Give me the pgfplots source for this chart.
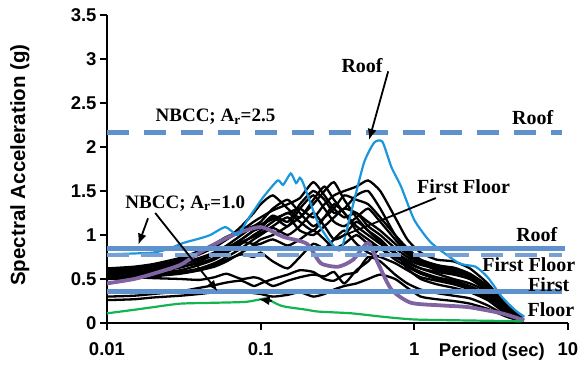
\documentclass[border=0pt]{standalone}
\usepackage{fontspec}
\setmainfont{Liberation Serif}
\newfontfamily\arial{Liberation Sans}
\usepackage{pgfplots}
\usepackage{pgfplotstable}
\pgfplotsset{compat=1.18}
\usetikzlibrary{arrows.meta}
\definecolor{nbcc}{RGB}{95,145,205}
\definecolor{roofblue}{RGB}{25,150,220}
\definecolor{purp}{RGB}{128,100,162}
\definecolor{grn}{RGB}{20,180,80}

\pgfplotstableread{
T b1 b2 b3 b4 b5 b6 b7 b8 b9 b10 b11 b12 b13 b14 b15
0.01 0.62 0.6 0.58 0.56 0.55 0.54 0.52 0.5 0.52 0.3 0.26 0.6 0.59 0.57 0.53
0.015 0.64 0.62 0.6 0.58 0.56 0.55 0.53 0.51 0.52 0.31 0.27 0.61 0.6 0.58 0.54
0.02 0.67 0.65 0.63 0.6 0.58 0.56 0.55 0.53 0.51 0.33 0.29 0.63 0.62 0.6 0.55
0.03 0.74 0.72 0.7 0.66 0.63 0.6 0.58 0.56 0.5 0.36 0.31 0.68 0.67 0.64 0.57
0.04 0.82 0.8 0.78 0.73 0.7 0.66 0.62 0.6 0.49 0.4 0.33 0.74 0.72 0.68 0.6
0.05 0.9 0.88 0.86 0.8 0.78 0.72 0.68 0.66 0.52 0.43 0.35 0.8 0.78 0.74 0.64
0.06 0.98 0.95 0.95 0.88 0.85 0.8 0.75 0.72 0.56 0.46 0.36 0.86 0.84 0.82 0.7
0.075 1.05 1.05 1.1 1.0 0.95 0.9 0.85 0.78 0.5 0.48 0.36 0.92 0.95 0.92 0.8
0.09 1.1 1.15 1.25 1.1 1.05 1.0 0.95 0.75 0.52 0.42 0.34 0.9 1.05 0.98 0.88
0.1 1.12 1.2 1.35 1.15 1.08 1.05 1.0 0.8 0.5 0.45 0.33 0.95 1.1 1.02 0.9
0.12 1.18 1.28 1.45 1.3 1.2 1.15 1.08 0.7 0.42 0.5 0.3 1.0 1.22 1.1 0.95
0.15 1.25 1.35 1.3 1.4 1.1 1.25 1.0 0.62 0.48 0.55 0.32 1.1 1.15 1.2 0.88
0.18 1.3 1.42 1.2 1.25 1.3 1.15 1.1 0.75 0.52 0.6 0.35 1.2 1.35 1.05 0.95
0.22 1.2 1.6 1.4 1.1 1.45 1.05 1.25 0.9 0.55 0.58 0.3 1.35 1.5 1.0 1.05
0.26 1.35 1.45 1.55 1.2 1.3 1.2 1.1 0.85 0.53 0.5 0.33 1.5 1.4 1.1 0.95
0.3 1.45 1.3 1.4 1.3 1.15 1.35 0.95 0.95 0.58 0.48 0.38 1.6 1.25 1.2 0.85
0.35 1.5 1.2 1.25 1.45 1.1 1.25 1.0 1.05 0.45 0.55 0.42 1.4 1.3 1.3 0.9
0.42 1.55 1.25 1.05 1.4 1.2 1.1 1.15 0.9 0.6 0.58 0.45 1.2 1.45 1.25 1.0
0.5 1.62 1.1 0.95 1.35 1.3 1.0 1.05 0.8 0.7 0.75 0.5 1.05 1.5 1.15 0.9
0.6 1.5 1.0 0.85 1.2 1.15 0.9 0.95 0.75 0.85 0.7 0.55 0.92 1.3 1.05 0.85
0.75 1.2 0.85 0.75 1.0 0.95 0.8 0.78 0.68 0.8 0.55 0.5 0.8 1.0 0.9 0.72
0.9 0.95 0.75 0.68 0.85 0.8 0.7 0.66 0.6 0.62 0.45 0.4 0.72 0.82 0.78 0.64
1.1 0.8 0.68 0.62 0.72 0.7 0.62 0.58 0.52 0.5 0.38 0.3 0.66 0.7 0.68 0.56
1.4 0.72 0.62 0.58 0.66 0.64 0.56 0.52 0.48 0.44 0.34 0.27 0.62 0.65 0.6 0.5
1.8 0.7 0.6 0.55 0.62 0.6 0.5 0.48 0.44 0.4 0.31 0.25 0.58 0.63 0.56 0.46
2.3 0.62 0.55 0.5 0.55 0.52 0.45 0.42 0.38 0.35 0.28 0.22 0.53 0.56 0.5 0.4
3 0.45 0.42 0.38 0.4 0.38 0.35 0.32 0.28 0.26 0.2 0.16 0.4 0.42 0.36 0.3
4 0.2 0.18 0.16 0.17 0.15 0.14 0.12 0.11 0.1 0.08 0.07 0.17 0.18 0.15 0.12
5 0.06 0.05 0.05 0.05 0.05 0.04 0.04 0.04 0.03 0.03 0.02 0.05 0.05 0.04 0.04
}\blk

\begin{document}
\begin{tikzpicture}
\begin{axis}[
  width=461pt, height=308pt, scale only axis,
  xmode=log, xmin=0.01, xmax=10, ymin=0, ymax=3.5,
  axis x line=bottom, axis y line=left,
  axis line style={-, line width=2.4pt, black},
  xtick={0.01,0.1,1,10}, xticklabels={0.01,0.1,1,10},
  ytick={0,0.5,1,1.5,2,2.5,3,3.5}, yticklabels={0,0.5,1,1.5,2,2.5,3,3.5},
  xminorticks=false, yminorticks=false,
  tick align=outside, major tick length=7pt,
  tick style={line width=2pt, black},
  ticklabel style={font=\arial\bfseries\fontsize{18.5}{20}\selectfont},
  xticklabel style={yshift=-9pt},
  xlabel={Period (sec)}, ylabel={Spectral Acceleration (g)},
  xlabel style={font=\arial\bfseries\fontsize{18.5}{20}\selectfont, at={(axis description cs:0.835,-0.094)}, anchor=center},
  ylabel style={font=\arial\bfseries\fontsize{20.5}{22}\selectfont, at={(axis description cs:-0.189,0.513)}, anchor=center},
  clip=false,
]
\coordinate (ll) at (rel axis cs:0,0);
\coordinate (ur) at (rel axis cs:1,1);

\pgfplotsinvokeforeach{b1,b2,b3,b4,b5,b6,b7,b8,b9,b10,b11,b12,b13,b14,b15}{
  \addplot[black, line width=2.3pt, smooth, tension=0.35] table[x=T, y=#1]{\blk};
}

% purple
\addplot[purp, line width=3.8pt, smooth, tension=0.4] coordinates {
(0.01,0.45) (0.015,0.5) (0.02,0.56) (0.03,0.66) (0.04,0.8) (0.066,1.0) (0.1,1.09)
(0.14,0.98) (0.2,0.9) (0.246,0.68) (0.32,0.64) (0.4,0.72) (0.5,0.91) (0.58,0.68)
(0.71,0.38) (0.95,0.23) (1.5,0.2) (2.25,0.18) (3.7,0.11) (5.2,0.03)};

% green
\addplot[grn, line width=2.2pt, smooth, tension=0.4] coordinates {
(0.01,0.11) (0.015,0.15) (0.02,0.18) (0.03,0.22) (0.05,0.23) (0.08,0.24) (0.1,0.27)
(0.11,0.28) (0.12,0.24) (0.14,0.19) (0.2,0.15) (0.236,0.13) (0.39,0.11) (0.63,0.07)
(1.0,0.04) (2,0.03) (5,0.02)};

% blue (roof)
\addplot[roofblue, line width=2.2pt, smooth, tension=0.35] coordinates {
(0.01,0.78) (0.015,0.79) (0.02,0.8) (0.025,0.84) (0.0314,0.91) (0.04,0.96) (0.047,1.0)
(0.059,1.09) (0.071,1.0) (0.082,1.17) (0.104,1.43) (0.129,1.62) (0.14,1.57)
(0.157,1.70) (0.17,1.59) (0.18,1.65) (0.19,1.58) (0.236,1.14) (0.287,0.91)
(0.333,0.83) (0.387,1.25) (0.47,1.82) (0.548,2.05) (0.62,2.06) (0.71,1.77)
(0.82,1.55) (1.0,1.17) (1.29,0.91) (1.95,0.68) (2.5,0.64) (3.0,0.52) (3.7,0.3)
(4.5,0.15) (5.2,0.07)};

% NBCC lines
\addplot[nbcc, line width=5pt, dash pattern=on 22pt off 15pt] coordinates {(0.01,2.16) (9.1,2.16)};
\addplot[nbcc, line width=5pt] coordinates {(0.01,0.85) (9.6,0.85)};
\addplot[nbcc!85, line width=4.5pt, dash pattern=on 22pt off 12pt] coordinates {(0.01,0.77) (9.1,0.77)};
\addplot[nbcc, line width=5pt] coordinates {(0.01,0.355) (9.1,0.355)};

% annotations
\tikzset{ann/.style={font=\bfseries\fontsize{20}{22}\selectfont, inner sep=0pt},
         arr/.style={-{Latex[length=11pt,width=9pt]}, line width=1.8pt, black}}
\node[ann, font=\bfseries\fontsize{19}{21}\selectfont] at (axis cs:0.0508,2.34) {NBCC; A\textsubscript{r}=2.5};
\node[ann] at (axis cs:5.9,2.33) {Roof};
\node[ann] at (axis cs:0.457,2.93) {Roof};
\draw[arr] (axis cs:0.676,2.86) -- (axis cs:0.508,2.08);
\node[ann] at (axis cs:2.09,1.55) {First Floor};
\draw[line width=1.8pt, black] (axis cs:1.38,1.42) -- (axis cs:0.3,0.95);
\node[ann, font=\bfseries\fontsize{19}{21}\selectfont] at (axis cs:0.0323,1.36) {NBCC; A\textsubscript{r}=1.0};
\draw[arr] (axis cs:0.0185,1.19) -- (axis cs:0.016,0.89);
\draw[arr] (axis cs:0.0206,1.25) -- (axis cs:0.0524,0.36);
\draw[arr] (axis cs:0.118,0.25) -- (axis cs:0.097,0.27);
\node[ann] at (axis cs:6.27,1.01) {Roof};
\node[ann] at (axis cs:5.56,0.66) {First Floor};
\node[ann] at (axis cs:7.5,0.44) {First};
\node[ann] at (axis cs:7.74,0.15) {Floor};
\end{axis}
\pgfresetboundingbox
\path[use as bounding box] ([shift={(-107pt,-52pt)}]ll) rectangle ([shift={(17pt,15pt)}]ur);
\end{tikzpicture}
\end{document}
